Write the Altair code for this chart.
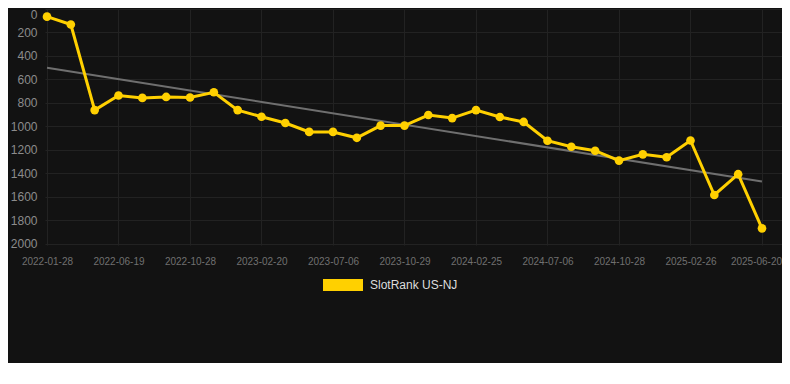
import json
import altair as alt
import pandas as pd

# Data
tick_labels = ["2022-01-28", "2022-06-19", "2022-10-28", "2023-02-20", "2023-07-06",
               "2023-10-29", "2024-02-25", "2024-07-06", "2024-10-28", "2025-02-26",
               "2025-06-20"]
ranks = [65, 132, 861, 737, 757, 749, 754, 709, 861, 918, 971, 1047, 1047, 1097,
         993, 993, 903, 929, 861, 920, 962, 1122, 1173, 1207, 1291, 1238, 1263,
         1120, 1584, 1407, 1868]
series_name = "SlotRank US-NJ"

df = pd.DataFrame({"idx": list(range(len(ranks))), "rank": ranks,
                   "series": [series_name] * len(ranks)})

GOLD = "#FFD000"
BG = "#121212"
GRID = "#222222"

label_expr = f"{json.dumps(tick_labels)}[round(datum.value / 3)]"

x_enc = alt.X("idx:Q",
              scale=alt.Scale(domain=[-0.084, 30.84], nice=False, zero=False),
              axis=alt.Axis(values=list(range(0, 31, 3)), labelExpr=label_expr,
                            title=None, ticks=False, domain=False,
                            labelFontSize=10, labelColor="#707070",
                            labelPadding=11, gridColor=GRID, labelFlush=False,
                            labelOffset={"expr": "datum.value == 30 ? -6 : 0"}))
y_enc = alt.Y("rank:Q",
              scale=alt.Scale(domain=[0, 2010], reverse=True, nice=False),
              axis=alt.Axis(values=list(range(0, 2001, 200)), title=None,
                            format="d", ticks=False, domain=False,
                            labelFontSize=12, labelColor="#8c8c8c",
                            labelPadding=8, gridColor=GRID, labelFlush=0.5))

base = alt.Chart(df)

trend = base.transform_regression("idx", "rank").mark_line(
    color="#6f6f6f", strokeWidth=2
).encode(x=x_enc, y=y_enc)

color_enc = alt.Color("series:N",
                      scale=alt.Scale(domain=[series_name], range=[GOLD]),
                      legend=alt.Legend(title=None, orient="none",
                                        legendX=278, legendY=256,
                                        symbolType="M-1,-0.3H1V0.3H-1Z",
                                        symbolSize=1600, symbolStrokeWidth=0,
                                        symbolFillColor=GOLD,
                                        labelFontSize=12, labelColor="#dddddd",
                                        labelOffset=7, padding=0))

line = base.mark_line(strokeWidth=3).encode(x=x_enc, y=y_enc, color=color_enc)
points = base.mark_circle(size=75, opacity=1).encode(
    x=x_enc, y=y_enc, color=alt.Color("series:N", legend=None,
                                      scale=alt.Scale(domain=[series_name], range=[GOLD])))

chart = alt.layer(trend, line, points).properties(
    width=737, height=236,
    background=BG,
    padding={"left": 2, "top": 0, "right": 0, "bottom": 72},
).configure_view(stroke=None).configure_axis(
    labelFont="Liberation Sans"
).configure_legend(labelFont="Liberation Sans")

chart.save("out.html", embed_options={"renderer": "svg", "actions": False})
